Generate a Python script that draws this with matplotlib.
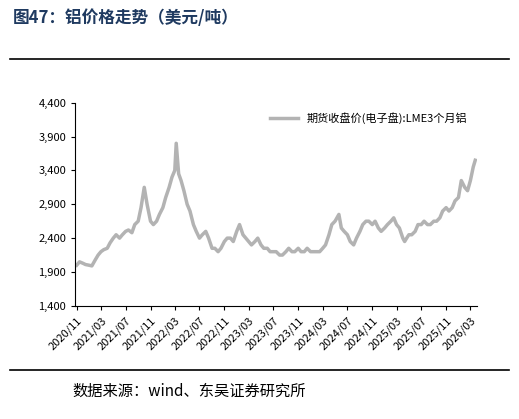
import matplotlib
matplotlib.use("Agg")
import matplotlib.pyplot as plt
import pandas as pd

plt.rcParams['font.family'] = ['Noto Sans CJK SC', 'DejaVu Sans']

dates = ["2020-11-01","2020-11-15","2020-12-01","2020-12-15","2021-01-01","2021-01-15","2021-02-01","2021-02-15",
         "2021-03-01","2021-03-15","2021-04-01","2021-04-15","2021-05-01","2021-05-15","2021-06-01","2021-06-15",
         "2021-07-01","2021-07-15","2021-08-01","2021-08-15","2021-09-01","2021-09-15","2021-10-01","2021-10-15",
         "2021-11-01","2021-11-15","2021-12-01","2021-12-15","2022-01-01","2022-01-15","2022-02-01","2022-02-15",
         "2022-03-01","2022-03-08","2022-03-20","2022-04-01","2022-04-15","2022-05-01","2022-05-15","2022-06-01",
         "2022-06-15","2022-07-01","2022-07-15","2022-08-01","2022-08-15","2022-09-01","2022-09-15","2022-10-01",
         "2022-10-15","2022-11-01","2022-11-15","2022-12-01","2022-12-15","2023-01-01","2023-01-15","2023-02-01",
         "2023-02-15","2023-03-01","2023-03-15","2023-04-01","2023-04-15","2023-05-01","2023-05-15","2023-06-01",
         "2023-06-15","2023-07-01","2023-07-15","2023-08-01","2023-08-15","2023-09-01","2023-09-15","2023-10-01",
         "2023-10-15","2023-11-01","2023-11-15","2023-12-01","2023-12-15","2024-01-01","2024-01-15","2024-02-01",
         "2024-02-15","2024-03-01","2024-03-15","2024-04-01","2024-04-15","2024-05-01","2024-05-20","2024-06-01",
         "2024-06-15","2024-07-01","2024-07-15","2024-08-01","2024-08-15","2024-09-01","2024-09-15","2024-10-01",
         "2024-10-15","2024-11-01","2024-11-15","2024-12-01","2024-12-15","2025-01-01","2025-01-15","2025-02-01",
         "2025-02-15","2025-03-01","2025-03-15","2025-04-01","2025-04-10","2025-04-20","2025-05-01","2025-05-15",
         "2025-06-01","2025-06-15","2025-07-01","2025-07-15","2025-08-01","2025-08-15","2025-09-01","2025-09-15",
         "2025-10-01","2025-10-15","2025-11-01","2025-11-15","2025-12-01","2025-12-15","2026-01-01","2026-01-15",
         "2026-02-01","2026-02-15","2026-03-01","2026-03-15","2026-03-25"]
prices = [2000,2050,2030,2010,2000,1990,2080,2150,
          2200,2230,2250,2330,2400,2450,2400,2450,
          2500,2520,2480,2600,2650,2850,3150,2900,
          2650,2600,2650,2750,2850,3000,3150,3300,
          3400,3800,3350,3250,3100,2900,2800,2600,
          2500,2400,2450,2500,2400,2250,2250,2200,
          2250,2350,2400,2400,2350,2500,2600,2450,
          2400,2350,2300,2350,2400,2300,2250,2250,
          2200,2200,2200,2150,2150,2200,2250,2200,
          2200,2250,2200,2200,2250,2200,2200,2200,
          2200,2250,2300,2450,2600,2650,2750,2550,
          2500,2450,2350,2300,2400,2500,2600,2650,
          2650,2600,2650,2550,2500,2550,2600,2650,
          2700,2600,2550,2400,2350,2400,2450,2450,
          2500,2600,2600,2650,2600,2600,2650,2650,
          2700,2800,2850,2800,2850,2950,3000,3250,
          3150,3100,3250,3450,3550]

tick_labels = ["2020/11","2021/03","2021/07","2021/11","2022/03","2022/07","2022/11","2023/03","2023/07",
               "2023/11","2024/03","2024/07","2024/11","2025/03","2025/07","2025/11","2026/03"]
yticks = [1400,1900,2400,2900,3400,3900,4400]

x = pd.to_datetime(dates)
fig = plt.figure(figsize=(5.19,4.19), dpi=100)
ax = fig.add_axes([0.145, 0.27, 0.775, 0.485])
ax.plot(x, prices, color='#b3b3b3', lw=2.5, label='期货收盘价(电子盘):LME3个月铝')
tx = pd.to_datetime([t.replace('/','-')+'-01' for t in tick_labels])
ax.set_xticks(tx)
ax.set_xticklabels(tick_labels, rotation=45, ha='right', rotation_mode='anchor', fontsize=8)
ax.set_xlim(pd.Timestamp('2020-10-25'), pd.Timestamp('2026-04-05'))
ax.set_ylim(1400,4400)
ax.set_yticks(yticks)
ax.set_yticklabels([f"{v:,}" for v in yticks], fontsize=8)
for s in ['top','right']:
    ax.spines[s].set_visible(False)
ax.tick_params(direction='out', length=3)
ax.legend(loc='upper right', frameon=False, fontsize=8, handlelength=2.5, bbox_to_anchor=(1.0,1.0))

fig.text(0.025, 0.945, '图47：铝价格走势（美元/吨）', fontsize=12, fontweight='bold', color='#1f3a60')
fig.add_artist(plt.Line2D([0.02,0.98],[0.858,0.858], color='black', lw=1.2))
fig.add_artist(plt.Line2D([0.02,0.98],[0.117,0.117], color='black', lw=1.2))
fig.text(0.14, 0.055, '数据来源：wind、东吴证券研究所', fontsize=11)
fig.savefig('out.png', dpi=100)
